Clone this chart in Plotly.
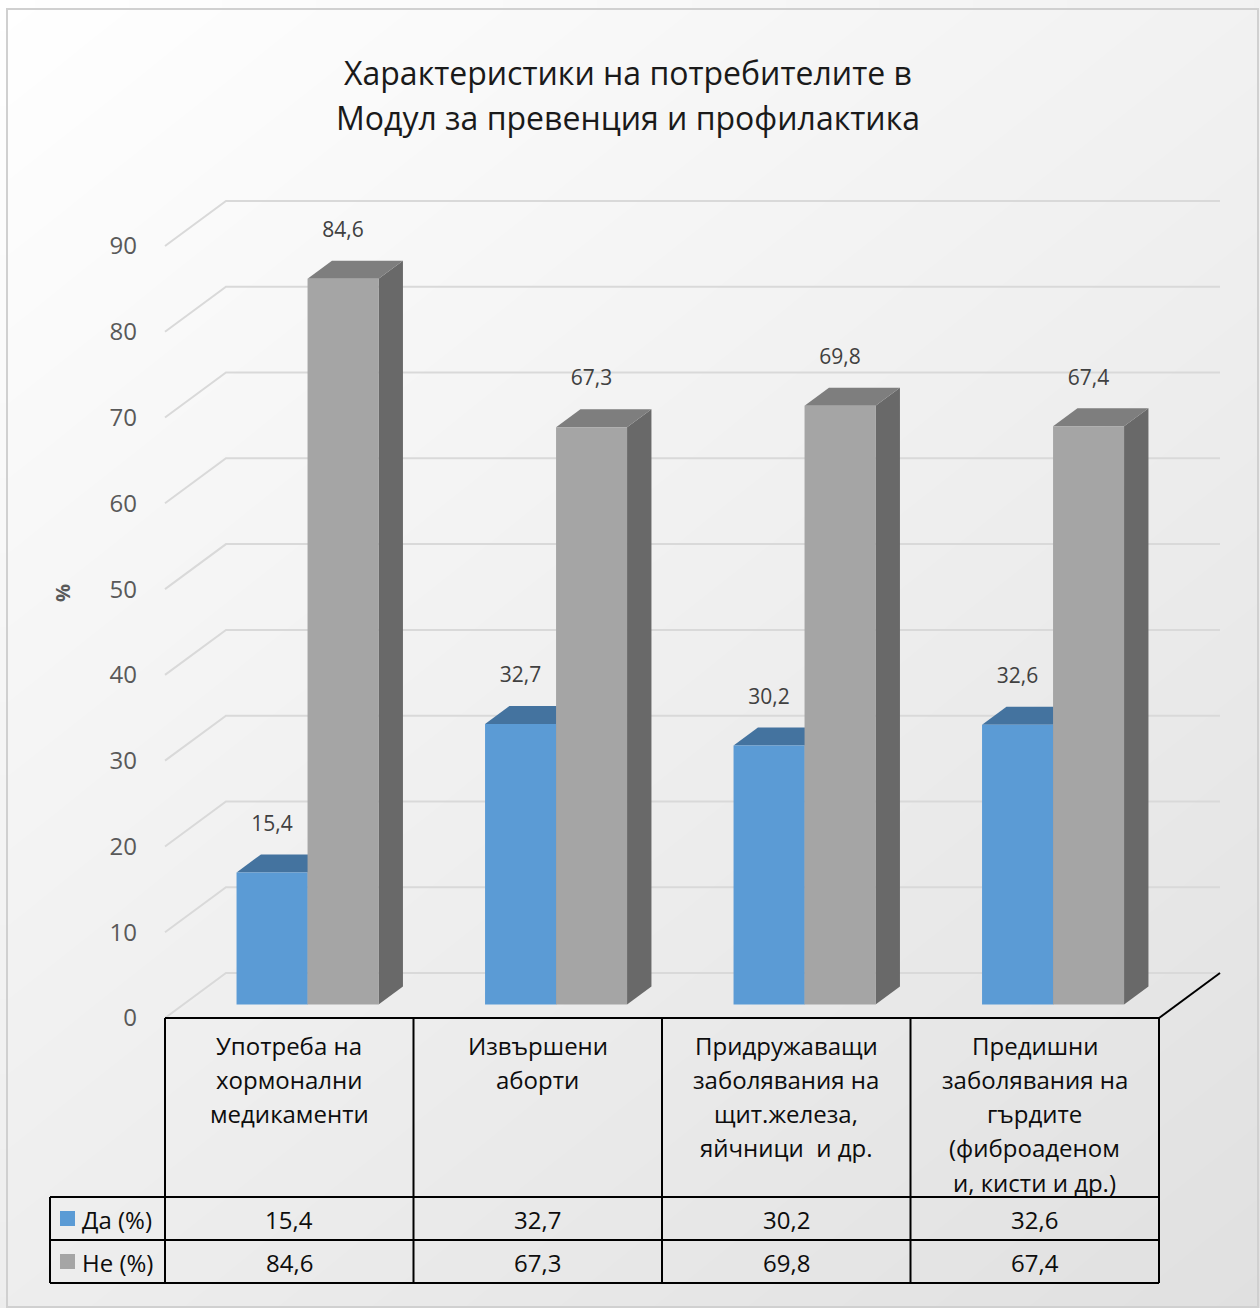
import numpy as np
import plotly.graph_objects as go

# ---- chart content -------------------------------------------------------
title_lines = ["Характеристики на потребителите в",
               "Модул за превенция и профилактика"]
categories = [
    ["Употреба на", "хормонални", "медикаменти"],
    ["Извършени", "аборти"],
    ["Придружаващи", "заболявания на", "щит.железа,", "яйчници  и др."],
    ["Предишни", "заболявания на", "гърдите", "(фиброаденом", "и, кисти и др.)"],
]
series_names = ["Да (%)", "Не (%)"]
yes_values = [15.4, 32.7, 30.2, 32.6]
no_values = [84.6, 67.3, 69.8, 67.4]
y_ticks = [0, 10, 20, 30, 40, 50, 60, 70, 80, 90]
axis_title = "%"

# ---- layout geometry (pixels) --------------------------------------------
W, H = 1260, 1308
PX0 = 165.0        # left edge of the floor / table columns
CATW = 248.5       # width of one category
Y0 = 1018.0        # pixel row of value 0 on the front edge
PPU = 8.578        # pixels per value unit
DEPTH_PX = (61.0, 45.0)   # oblique depth vector of the floor
D0, D1 = 0.30, 0.70       # depth span of the columns
BAR_W = 0.2857            # column width in category units

dx = DEPTH_PX[0] / CATW
dy = DEPTH_PX[1] / PPU
x_range = [-PX0 / CATW, (W - PX0) / CATW]
y_range = [-(H - Y0) / PPU, Y0 / PPU]


def px_x(p):
    return p / W


def px_y(p):
    return 1 - p / H


FONT = "Open Sans"
fig = go.Figure()

# background gradient
gx = np.linspace(8, 1257, 40)
gy = np.linspace(10, 1308, 40)
zz = [[13 * a / W + 17 * b / H for a in gx] for b in gy]
fig.add_trace(go.Heatmap(
    x=(gx - PX0) / CATW, y=(Y0 - gy) / PPU, z=zz, zmin=0, zmax=30,
    colorscale=[[0, "#ffffff"], [1, "#e0e0e0"]], showscale=False,
    zsmooth="best", hoverinfo="skip"))

# side-wall and back-wall gridlines
n = len(categories)
gxs, gys = [], []
for v in y_ticks:
    gxs += [0, dx, n + dx, None]
    gys += [v, v + dy, v + dy, None]
fig.add_trace(go.Scatter(x=gxs, y=gys, mode="lines",
                         line=dict(color="#d9d9d9", width=2),
                         hoverinfo="skip", showlegend=False))
# right floor edge
fig.add_trace(go.Scatter(x=[n, n + dx], y=[0, dy], mode="lines",
                         line=dict(color="#000000", width=2),
                         hoverinfo="skip", showlegend=False))

# 3D columns
palette = [
    dict(front="#5b9bd5", top="#44739f", side="#3c6590"),
    dict(front="#a5a5a5", top="#7e7e7e", side="#696969"),
]
sx = (D1 - D0) * dx
sy = (D1 - D0) * dy


def face(xs, ys, color):
    fig.add_trace(go.Scatter(x=xs + [xs[0]], y=ys + [ys[0]], mode="lines",
                             fill="toself", fillcolor=color,
                             line=dict(width=0, color=color),
                             hoverinfo="skip", showlegend=False))


label_x, label_y, label_t = [], [], []
for c in range(n):
    for s, vals in enumerate([yes_values, no_values]):
        v = vals[c]
        u0 = 0.5 - BAR_W + s * BAR_W
        u1 = u0 + BAR_W
        fx0 = c + u0 + D0 * dx
        fx1 = c + u1 + D0 * dx
        fy0 = D0 * dy
        fy1 = v + D0 * dy
        col = palette[s]
        face([fx1, fx1 + sx, fx1 + sx, fx1],
             [fy0, fy0 + sy, fy1 + sy, fy1], col["side"])
        face([fx0, fx1, fx1 + sx, fx0 + sx],
             [fy1, fy1, fy1 + sy, fy1 + sy], col["top"])
        face([fx0, fx1, fx1, fx0], [fy0, fy0, fy1, fy1], col["front"])
        label_x.append((fx0 + fx1) / 2)
        label_y.append(fy1 + 47 / PPU)
        label_t.append(f"{v:.1f}".replace(".", ","))

fig.add_trace(go.Scatter(x=label_x, y=label_y, text=label_t, mode="text",
                         textfont=dict(family=FONT, size=21, color="#404040"),
                         hoverinfo="skip", showlegend=False))

# ---- data table ------------------------------------------------------------
shapes = []
table_right = px_x(PX0 + n * CATW)
line = dict(color="#000000", width=2)
for c in range(n + 1):
    shapes.append(dict(type="line", xref="x", yref="paper", x0=c, x1=c,
                       y0=px_y(Y0), y1=px_y(1283), line=line))
shapes.append(dict(type="line", xref="paper", yref="paper", x0=px_x(PX0),
                   x1=table_right, y0=px_y(Y0), y1=px_y(Y0), line=line))
for row_y in [1197, 1240, 1283]:
    shapes.append(dict(type="line", xref="paper", yref="paper", x0=px_x(50),
                       x1=table_right, y0=px_y(row_y), y1=px_y(row_y),
                       line=line))
shapes.append(dict(type="line", xref="paper", yref="paper", x0=px_x(50),
                   x1=px_x(50), y0=px_y(1197), y1=px_y(1283), line=line))
# chart border
shapes.append(dict(type="rect", xref="paper", yref="paper", x0=px_x(7),
                   x1=px_x(1258), y0=px_y(9), y1=px_y(1307),
                   line=dict(color="#d0d0d0", width=2)))

annotations = []
for i, t in enumerate(title_lines):
    annotations.append(dict(text=t, xref="paper", yref="paper", x=px_x(628),
                            y=px_y(72 + 46 * i), showarrow=False,
                            xanchor="center", yanchor="middle",
                            font=dict(family=FONT, size=32, color="#1a1a1a")))
annotations.append(dict(text="<b>" + axis_title + "</b>", xref="paper",
                        yref="paper", x=px_x(62), y=px_y(593),
                        showarrow=False, textangle=-90,
                        xanchor="center", yanchor="middle",
                        font=dict(family=FONT, size=20, color="#595959")))
for c, lines in enumerate(categories):
    for j, t in enumerate(lines):
        annotations.append(dict(text=t, xref="x", yref="paper", x=c + 0.5,
                                y=px_y(1045 + 34.3 * j), showarrow=False,
                                xanchor="center", yanchor="middle",
                                font=dict(family=FONT, size=24,
                                          color="#0d0d0d")))
row_centers = [1219, 1262]
for r, vals in enumerate([yes_values, no_values]):
    shapes.append(dict(type="rect", xref="paper", yref="paper",
                       x0=px_x(60), x1=px_x(75),
                       y0=px_y(row_centers[r] - 8), y1=px_y(row_centers[r] + 7),
                       fillcolor=palette[r]["front"], line=dict(width=0)))
    annotations.append(dict(text=series_names[r], xref="paper", yref="paper",
                            x=px_x(80), y=px_y(row_centers[r]),
                            showarrow=False, xanchor="left",
                            yanchor="middle",
                            font=dict(family=FONT, size=24, color="#0d0d0d")))
    for c, v in enumerate(vals):
        annotations.append(dict(text=f"{v:.1f}".replace(".", ","), xref="x",
                                yref="paper", x=c + 0.5,
                                y=px_y(row_centers[r]), showarrow=False,
                                xanchor="center", yanchor="middle",
                                font=dict(family=FONT, size=24,
                                          color="#0d0d0d")))

fig.update_layout(
    width=W, height=H, margin=dict(l=0, r=0, t=0, b=0, pad=0),
    paper_bgcolor="#ffffff", plot_bgcolor="rgba(0,0,0,0)",
    showlegend=False, shapes=shapes, annotations=annotations,
    xaxis=dict(range=x_range, visible=False, fixedrange=True),
    yaxis=dict(range=y_range, anchor="free", position=px_x(137),
               tickvals=y_ticks, ticktext=[str(t) for t in y_ticks],
               showgrid=False, zeroline=False, showline=False, ticks="",
               tickfont=dict(family=FONT, size=24, color="#595959"),
               fixedrange=True),
)

fig.write_html("out.html")
